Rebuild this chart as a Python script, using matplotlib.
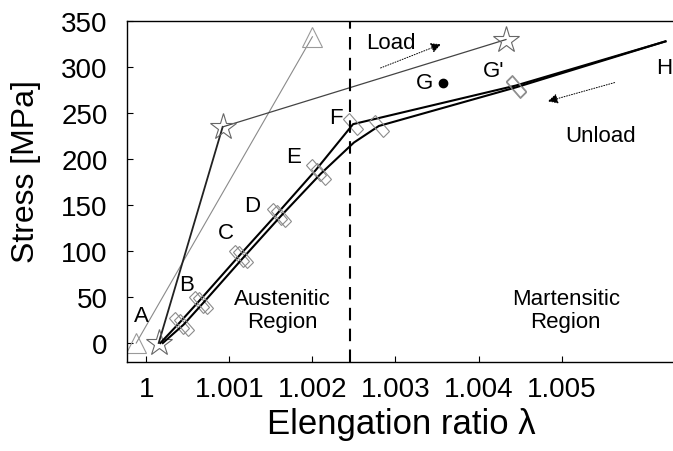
import matplotlib
matplotlib.use('Agg')
import matplotlib.pyplot as plt
from matplotlib.markers import MarkerStyle
from matplotlib.transforms import Affine2D

plt.rcParams['font.family'] = ['Liberation Sans', 'DejaVu Sans']

# triangle series (A -> top)
tri_x = [0.99988, 1.00200]
tri_y = [0, 333]

# star series
star_x = [1.00015, 1.00092, 1.00433]
star_y = [0, 235, 330]

# loading branch (upper black line)
load_x = [1.00017, 1.00040, 1.00063, 1.00112, 1.00157, 1.00204, 1.00249, 1.00445, 1.00625]
load_y = [0, 22, 45, 95, 140, 188, 238, 280, 328]

# unloading branch (lower black line)
unload_x = [1.00625, 1.00445, 1.00280, 1.00250, 1.00210, 1.00162, 1.00117, 1.00068, 1.00045, 1.00020]
unload_y = [328, 278, 236, 218, 184, 138, 93, 43, 20, 0]

# phase boundary and point G
boundary_x = 1.00245
g_x, g_y = [1.00357], [283]

point_labels = ['A', 'B', 'C', 'D', 'E', 'F', 'G', "G'", 'H']
label_x = [0.99994, 1.00049, 1.00096, 1.00128, 1.00177, 1.00228, 1.00335, 1.00418, 1.00624]
label_y = [30, 64, 120, 149, 203, 245, 283, 296, 300]

xticks = [1.0, 1.001, 1.002, 1.003, 1.004, 1.005]
xtick_labels = ['1', '1.001', '1.002', '1.003', '1.004', '1.005']
yticks = [0, 50, 100, 150, 200, 250, 300, 350]

fig = plt.figure(figsize=(6.73, 4.52), dpi=100)
ax = fig.add_axes([0.189, 0.197, 0.815, 0.754])

rect = MarkerStyle('s', fillstyle='none', transform=Affine2D().scale(0.5, 1.25).rotate_deg(40))

ax.plot(tri_x, tri_y, color='#8a8a8a', lw=0.8, marker='^', ms=15, mfc='none', mec='#9a9a9a', mew=0.8)

ax.plot(star_x[:2], star_y[:2], color='#222222', lw=1.3)
ax.plot(star_x[1:], star_y[1:], color='#444444', lw=0.9)
ax.plot(star_x, star_y, ls='none', marker='*', ms=20, mfc='none', mec='#666666', mew=0.8)

ax.plot(load_x, load_y, color='black', lw=1.5, marker=rect, ms=12, mec='#8c8c8c', mew=0.8,
        markevery=[1, 2, 3, 4, 5, 6, 7])
ax.plot(unload_x, unload_y, color='black', lw=1.5, marker=rect, ms=12, mec='#8c8c8c', mew=0.8,
        markevery=[1, 2, 4, 5, 6, 7, 8])

ax.axvline(boundary_x, color='black', lw=1.5, dashes=(6, 4))
ax.plot(g_x, g_y, 'o', color='black', ms=6)

for s, x, y in zip(point_labels, label_x, label_y):
    ax.text(x, y, s, fontsize=16, ha='center', va='center')

ax.text(1.00164, 36, 'Austenitic\nRegion', fontsize=16, ha='center', va='center', linespacing=1.1)
ax.text(1.00505, 36, 'Martensitic\nRegion', fontsize=16, ha='center', va='center', linespacing=1.1)
ax.text(1.00294, 327, 'Load', fontsize=16, ha='center', va='center')
ax.text(1.00547, 226, 'Unload', fontsize=16, ha='center', va='center')

ax.annotate('', xy=(1.00358, 326), xytext=(1.00279, 298),
            arrowprops=dict(arrowstyle='-|>', color='black', lw=0.7, ls=':', mutation_scale=15))
ax.annotate('', xy=(1.00480, 262), xytext=(1.00567, 284),
            arrowprops=dict(arrowstyle='-|>', color='black', lw=0.7, ls=':', mutation_scale=15))

ax.set_xlim(0.999771, 1.006373)
ax.set_ylim(-20.6, 350)
ax.set_xticks(xticks, xtick_labels)
ax.set_yticks(yticks)
ax.tick_params(direction='in', length=4, width=0.8, labelsize=20)
ax.tick_params(axis='x', pad=10)
ax.tick_params(axis='y', pad=14)
ax.spines['right'].set_visible(False)
for sp in ['left', 'top', 'bottom']:
    ax.spines[sp].set_linewidth(1.0)

ax.set_xlabel('Elengation ratio λ', fontsize=25, labelpad=4)
ax.set_ylabel('Stress [MPa]', fontsize=23)
ax.yaxis.set_label_coords(-0.157, 0.563)

fig.savefig('out.png', dpi=100)
